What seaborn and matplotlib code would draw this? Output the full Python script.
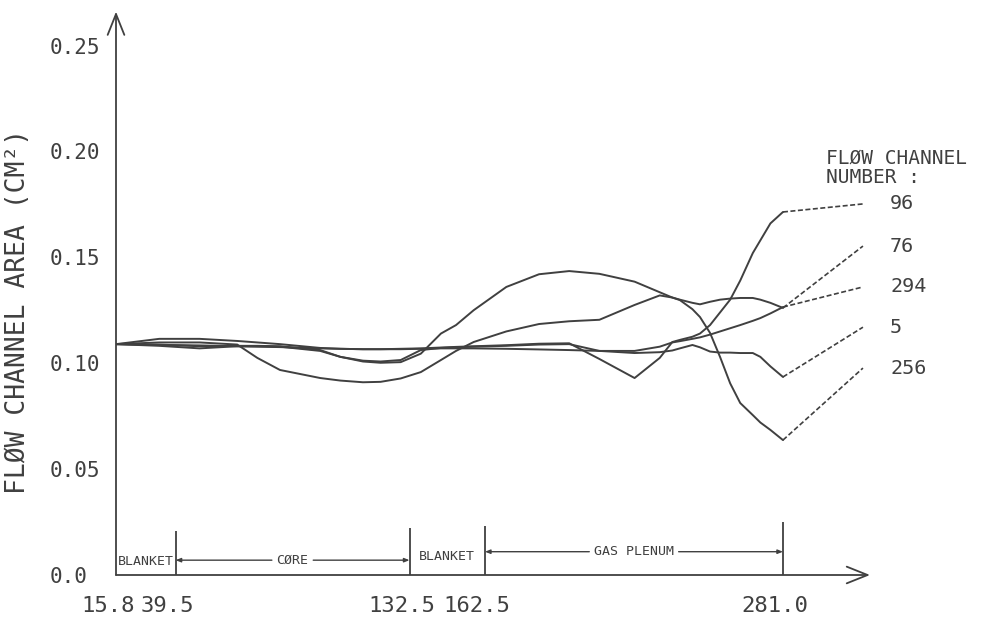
import matplotlib
matplotlib.use("Agg")
import matplotlib.pyplot as plt
import matplotlib.transforms as mtransforms
import pandas as pd
import seaborn as sns

# axial position (cm) shared by all channels
positions = [15.8, 33, 49, 64, 72, 81, 97, 105, 114, 121, 129, 137, 145, 151, 158,
             171, 184, 196, 208, 222, 232, 237, 240, 245, 248, 252, 256, 260, 264,
             269, 272, 276, 281]

# flow channel area (cm^2)
area_96 = [.109, .1115, .1115, .1105, .1098, .109, .1072, .1068, .1066, .1066, .1068,
           .107, .1074, .1077, .108, .1085, .1092, .1094, .1020, .0930, .1025, .1100,
           .1110, .1125, .1140, .1180, .1240, .1300, .1390, .1520, .1580, .1660, .1714]
area_76 = [.109, .1098, .1098, .1088, .1025, .0968, .0930, .0918, .0910, .0912, .0928,
           .0958, .1015, .1058, .1100, .1150, .1185, .1198, .1205, .1275, .1320, .1310,
           .1300, .1285, .1278, .1290, .1300, .1305, .1308, .1308, .1300, .1285, .1261]
area_294 = [.109, .1086, .1084, .1080, .1078, .1076, .1070, .1068, .1066, .1066, .1066,
            .1068, .1070, .1070, .1070, .1068, .1065, .1062, .1058, .1058, .1078, .1098,
            .1104, .1115, .1122, .1135, .1150, .1165, .1180, .1200, .1213, .1235, .1265]
area_5 = [.109, .1082, .1070, .1080, .1080, .1078, .1058, .1030, .1012, .1008, .1015,
          .1062, .1072, .1075, .1078, .1082, .1088, .1090, .1058, .1048, .1052, .1060,
          .1070, .1086, .1075, .1055, .1050, .1050, .1048, .1048, .1030, .0985, .0935]
area_256 = [.109, .1088, .1080, .1082, .1082, .1080, .1062, .1030, .1008, .1002, .1005,
            .1045, .1140, .1180, .1250, .1360, .1420, .1435, .1422, .1385, .1335, .1310,
            .1298, .1255, .1218, .1143, .1029, .0905, .0812, .0755, .0720, .0685, .0637]

channels = ["96", "76", "294", "5", "256"]
channel_areas = [area_96, area_76, area_294, area_5, area_256]
label_area = [0.1752, 0.1553, 0.136, 0.117, 0.0977]   # where the dashed leaders end
label_pos = 312.8

boundaries = [15.8, 39.5, 132.5, 162.5, 281.0]
regions = ["BLANKET", "CØRE", "BLANKET", "GAS PLENUM"]
yticks = [0.0, 0.05, 0.10, 0.15, 0.20, 0.25]
ytick_labels = ["0.0", "0.05", "0.10", "0.15", "0.20", "0.25"]

INK = "#404040"
PX_X = 2.515    # pixels per cm
PX_Y = 2118     # pixels per cm^2

sns.set_theme(style="white")
plt.rcParams["font.family"] = ["DejaVu Sans Mono", "DejaVu Sans"]

fig = plt.figure(figsize=(9.88, 6.2), dpi=100)
ax = fig.add_axes([116 / 988, 45 / 620, 784 / 988, 565 / 620])
ax.set_xlim(15.8, 15.8 + 784 / PX_X)
ax.set_ylim(0, 565 / PX_Y)

# long-form table for seaborn
rows = []
for ch, vals in zip(channels, channel_areas):
    for x, v in zip(positions, vals):
        rows.append({"position": x, "area": v, "channel": ch})
df = pd.DataFrame(rows)

sns.lineplot(data=df, x="position", y="area", hue="channel", hue_order=channels,
             palette={c: INK for c in channels}, estimator=None, legend=False,
             linewidth=1.4, ax=ax)

# dashed leaders to the channel numbers
for ch, vals, ly in zip(channels, channel_areas, label_area):
    ax.plot([positions[-1], label_pos], [vals[-1], ly], color=INK, lw=1.2,
            ls=(0, (3, 1.5)), clip_on=False)
    ax.text(label_pos + 10.8, ly, ch, fontsize=14.5, color=INK, va="center", ha="left")

ax.text(298.1, 0.1924, "FLØW CHANNEL\nNUMBER :", fontsize=14, color=INK,
        va="center", ha="left", linespacing=1.05)

# axes drawn as arrows
for spine in ax.spines.values():
    spine.set_visible(False)
arrow = dict(arrowstyle="->,head_length=1.0,head_width=0.4", color=INK, lw=1.3,
             shrinkA=0, shrinkB=0, mutation_scale=15)
ax.annotate("", xy=(15.8, 0.266), xytext=(15.8, 0), arrowprops=arrow, annotation_clip=False)
ax.annotate("", xy=(315.6, 0), xytext=(15.8, 0), arrowprops=arrow, annotation_clip=False)

ax.set_yticks(yticks)
ax.set_yticklabels(ytick_labels)
ax.tick_params(axis="y", direction="in", length=11.5, width=1.3, color=INK,
               pad=47.5, labelsize=15, labelcolor=INK)
for lab in ax.get_yticklabels():
    lab.set_horizontalalignment("left")

ax.set_xticks(boundaries)
ax.set_xticklabels([f"{b:.1f}" for b in boundaries])
ax.tick_params(axis="x", length=0, pad=15, labelsize=16, labelcolor=INK)
shift = mtransforms.ScaledTranslation(-8 / 100, 0, fig.dpi_scale_trans)
for lab in ax.get_xticklabels():
    lab.set_transform(lab.get_transform() + shift)

ax.set_xlabel("")
ax.set_ylabel("")
fig.text(18 / 988, 0.497, "FLØW CHANNEL AREA (CM²)", rotation=90, fontsize=19,
         color=INK, ha="center", va="center")

# region markers along the x axis
ax.vlines(boundaries[1:], 0, [0.021, 0.022, 0.023, 0.025], color=INK, lw=1.3)
region_y = [0.0066, 0.007, 0.0085, 0.011]
small_arrow = dict(arrowstyle="-|>,head_length=0.5,head_width=0.2", color=INK, lw=1.0,
                   shrinkA=1, shrinkB=0, mutation_scale=6)
for i, name in enumerate(regions):
    lo, hi = boundaries[i], boundaries[i + 1]
    mid = (lo + hi) / 2
    ax.text(mid, region_y[i], name, fontsize=9.5, color=INK, ha="center", va="center")
    if hi - lo > 50:
        for end in (lo, hi):
            ax.annotate(name, xy=(end, region_y[i]), xytext=(mid, region_y[i]),
                        fontsize=9.5, color="none", ha="center", va="center",
                        arrowprops=small_arrow)

fig.savefig("out.png", dpi=100)
